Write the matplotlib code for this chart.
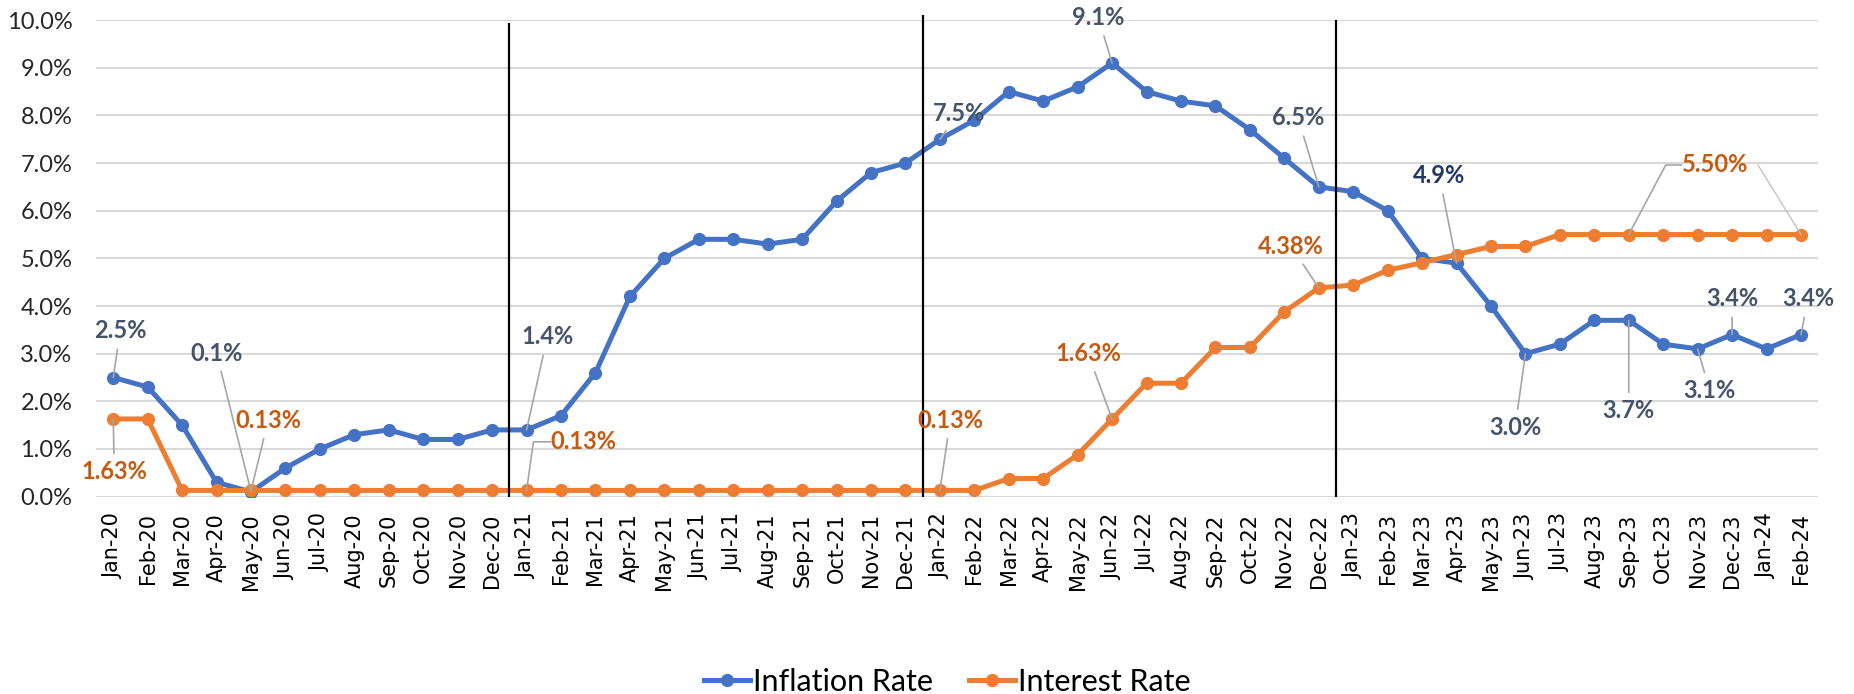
import matplotlib
matplotlib.use("Agg")
import matplotlib.pyplot as plt
import numpy as np

months = ["Jan-20", "Feb-20", "Mar-20", "Apr-20", "May-20", "Jun-20", "Jul-20", "Aug-20", "Sep-20", "Oct-20",
          "Nov-20", "Dec-20", "Jan-21", "Feb-21", "Mar-21", "Apr-21", "May-21", "Jun-21", "Jul-21", "Aug-21",
          "Sep-21", "Oct-21", "Nov-21", "Dec-21", "Jan-22", "Feb-22", "Mar-22", "Apr-22", "May-22", "Jun-22",
          "Jul-22", "Aug-22", "Sep-22", "Oct-22", "Nov-22", "Dec-22", "Jan-23", "Feb-23", "Mar-23", "Apr-23",
          "May-23", "Jun-23", "Jul-23", "Aug-23", "Sep-23", "Oct-23", "Nov-23", "Dec-23", "Jan-24", "Feb-24"]

inflation = [2.5, 2.3, 1.5, 0.3, 0.1, 0.6, 1.0, 1.3, 1.4, 1.2,
             1.2, 1.4, 1.4, 1.7, 2.6, 4.2, 5.0, 5.4, 5.4, 5.3,
             5.4, 6.2, 6.8, 7.0, 7.5, 7.9, 8.5, 8.3, 8.6, 9.1,
             8.5, 8.3, 8.2, 7.7, 7.1, 6.5, 6.4, 6.0, 5.0, 4.9,
             4.0, 3.0, 3.2, 3.7, 3.7, 3.2, 3.1, 3.4, 3.1, 3.4]

interest = [1.63, 1.63, 0.13, 0.13, 0.13, 0.13, 0.13, 0.13, 0.13, 0.13,
            0.13, 0.13, 0.13, 0.13, 0.13, 0.13, 0.13, 0.13, 0.13, 0.13,
            0.13, 0.13, 0.13, 0.13, 0.13, 0.13, 0.38, 0.38, 0.88, 1.63,
            2.38, 2.38, 3.13, 3.13, 3.88, 4.38, 4.44, 4.75, 4.91, 5.08,
            5.25, 5.25, 5.50, 5.50, 5.50, 5.50, 5.50, 5.50, 5.50, 5.50]

# year boundaries (between Dec and Jan)
dividers = [11.5, 23.5, 35.5]
divider_tops = [9.93, 10.1, 10.0]

# labelled points: (month index, text x, text y)
infl_labels = [(0, 0.2, 3.48), (4, 3.0, 3.01), (12, 12.6, 3.35), (24, 24.55, 8.05), (29, 28.6, 10.05),
               (35, 34.4, 7.95), (39, 38.5, 6.73), (41, 40.7, 1.45), (44, 44.0, 1.8), (46, 46.35, 2.22),
               (47, 47.0, 4.15), (49, 49.2, 4.15)]
int_labels = [(0, 0.03, 0.52), (4, 4.5, 1.6), (24, 24.3, 1.6), (29, 28.3, 3.0), (35, 34.2, 5.25)]
# labels whose leader has an elbow: (month index, text x, text y, angle of the leg at the point)
int_elbow_labels = [(12, 13.66, 1.15, 82), (44, 46.5, 6.96, 62)]

blue = "#4472C4"
orange = "#ED7D31"

plt.rcParams['font.family'] = ['Lato', 'DejaVu Sans']

fig = plt.figure(figsize=(18.54, 6.94), dpi=100)
ax = fig.add_axes([0.0518, 0.2844, 0.9289, 0.6866])

x = np.arange(len(months))
ax.plot(x, inflation, color=blue, lw=3.6, marker="o", ms=8.5, label="Inflation Rate", zorder=3)
ax.plot(x, interest, color=orange, lw=3.6, marker="o", ms=8.5, label="Interest Rate", zorder=3)

ax.set_xlim(-0.5, len(months) - 0.5)
ax.set_ylim(0, 10)
ax.set_yticks(np.arange(0, 11, 1))
ax.set_yticklabels(["%.1f%%" % v for v in np.arange(0, 11, 1)], fontsize=17, color="#262626")
ax.set_xticks(x)
ax.set_xticklabels(months, rotation=90, fontsize=15, family="DejaVu Sans")
ax.tick_params(axis="both", length=0)
ax.tick_params(axis="y", pad=17)
ax.tick_params(axis="x", pad=12)
ax.grid(axis="y", color="#D9D9D9", lw=1.5)
ax.set_axisbelow(True)
for s in ax.spines.values():
    s.set_visible(False)

for d, top in zip(dividers, divider_tops):
    ax.vlines(d, 0, top, color="black", lw=1.6, zorder=4, clip_on=False)

leader = dict(arrowstyle="-", color="#A6A6A6", lw=1.2, shrinkA=3, shrinkB=0)
for i, tx, ty in infl_labels:
    c = "#203864" if i == 39 else "#44546A"
    ax.annotate("%.1f%%" % inflation[i], xy=(i, inflation[i]), xytext=(tx, ty), ha="center", va="center",
                fontsize=17, fontweight="bold", color=c, arrowprops=leader, zorder=5, annotation_clip=False)
for i, tx, ty in int_labels:
    ax.annotate("%.2f%%" % interest[i], xy=(i, interest[i]), xytext=(tx, ty), ha="center", va="center",
                fontsize=17, fontweight="bold", color="#C55A11", arrowprops=leader, zorder=5, annotation_clip=False)
for i, tx, ty, ang in int_elbow_labels:
    elbow = dict(arrowstyle="-", color="#A6A6A6", lw=1.2, shrinkA=0, shrinkB=0, relpos=(0, 0.5),
                 connectionstyle="angle,angleA=0,angleB=%d,rad=0" % ang, patchA=None)
    t = ax.annotate("%.2f%%" % interest[i], xy=(i, interest[i]), xytext=(tx, ty), ha="center", va="center",
                    fontsize=17, fontweight="bold", color="#C55A11", arrowprops=elbow, zorder=5)
    t.arrow_patch.set_patchA(None)

# second, fainter leader from the 5.50% label to the last point
ax.annotate("", xy=(49, interest[49]), xytext=(47.75, 6.96),
            arrowprops=dict(arrowstyle="-", color="#BFBFBF", lw=0.9, shrinkA=0, shrinkB=0))

fig.legend(loc="center", bbox_to_anchor=(0.511, 0.018), ncol=2, frameon=False, fontsize=22,
           handlelength=1.5, columnspacing=1.2, handletextpad=0.1)

fig.savefig("out.png", dpi=100)
